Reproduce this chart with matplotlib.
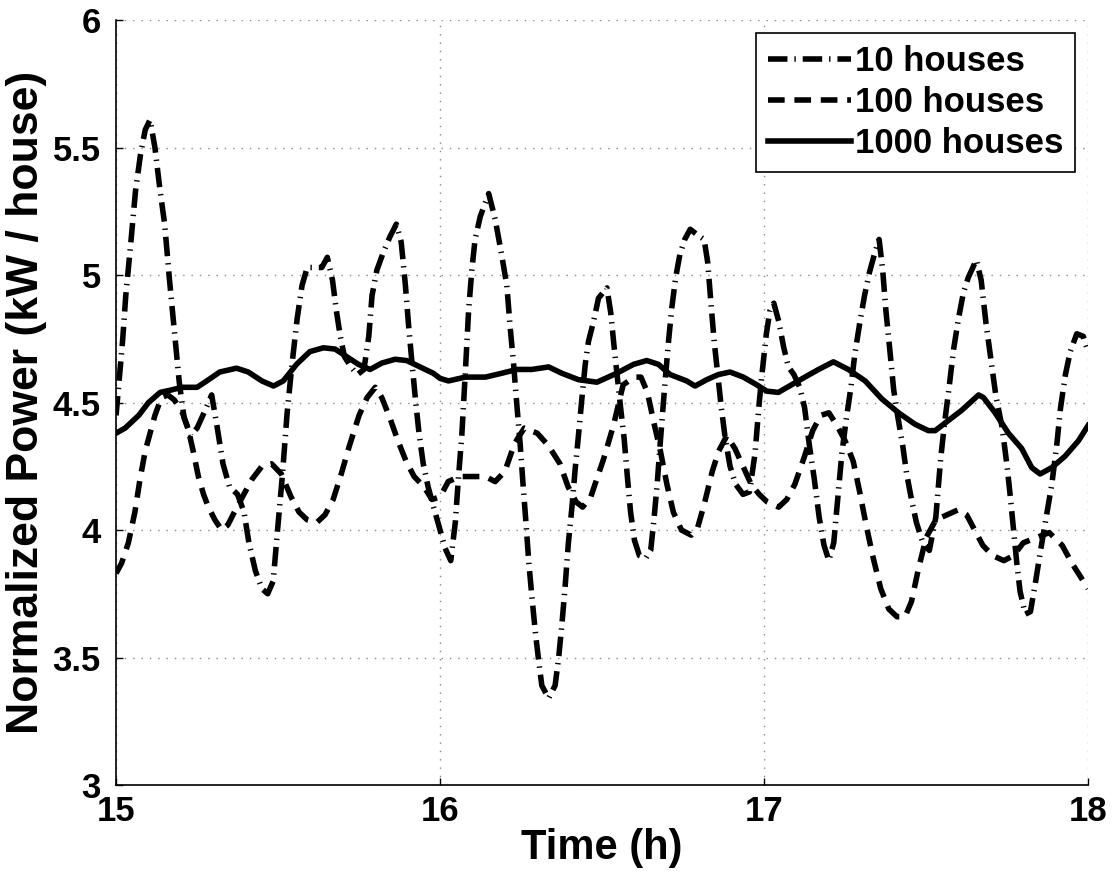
import matplotlib
matplotlib.use("Agg")
import matplotlib.pyplot as plt

# Normalized power per house
t10 = [15.0, 15.02, 15.03, 15.045, 15.06, 15.075, 15.09, 15.105, 15.12, 15.135, 15.15, 15.165,
       15.18, 15.195, 15.21, 15.23, 15.25, 15.275, 15.295, 15.31, 15.33, 15.35, 15.375, 15.395,
       15.41, 15.43, 15.45, 15.468, 15.485, 15.497, 15.513, 15.528, 15.543, 15.559, 15.574, 15.59,
       15.61, 15.635, 15.652, 15.668, 15.68, 15.692, 15.705, 15.725, 15.745, 15.765, 15.78, 15.79,
       15.805, 15.825, 15.845, 15.865, 15.88, 15.893, 15.903, 15.913, 15.925, 15.935, 15.948, 15.963,
       15.98, 16.0, 16.015, 16.033, 16.047, 16.057, 16.067, 16.078, 16.088, 16.098, 16.108, 16.124,
       16.15, 16.17, 16.19, 16.206, 16.216, 16.227, 16.237, 16.247, 16.256, 16.265, 16.274, 16.284,
       16.294, 16.304, 16.314, 16.335, 16.355, 16.366, 16.376, 16.386, 16.396, 16.407, 16.417, 16.427,
       16.438, 16.448, 16.458, 16.474, 16.489, 16.515, 16.527, 16.537, 16.548, 16.558, 16.568, 16.578,
       16.588, 16.6, 16.615, 16.635, 16.65, 16.66, 16.67, 16.68, 16.693, 16.705, 16.715, 16.727,
       16.74, 16.755, 16.772, 16.792, 16.815, 16.826, 16.836, 16.846, 16.857, 16.868, 16.88, 16.895,
       16.912, 16.935, 16.955, 16.972, 16.985, 16.995, 17.007, 17.018, 17.03, 17.045, 17.06, 17.075,
       17.092, 17.11, 17.125, 17.14, 17.155, 17.17, 17.185, 17.2, 17.215, 17.228, 17.24, 17.253,
       17.268, 17.28, 17.295, 17.31, 17.325, 17.34, 17.355, 17.366, 17.376, 17.387, 17.4, 17.412,
       17.428, 17.44, 17.455, 17.47, 17.49, 17.51, 17.53, 17.545, 17.557, 17.57, 17.585, 17.6,
       17.615, 17.63, 17.655, 17.67, 17.685, 17.7, 17.715, 17.735, 17.75, 17.76, 17.77, 17.78,
       17.79, 17.806, 17.822, 17.837, 17.852, 17.868, 17.888, 17.903, 17.915, 17.93, 17.945, 17.965,
       17.985, 18.0]
p10 = [4.45, 4.74, 4.92, 5.12, 5.33, 5.47, 5.57, 5.61, 5.5, 5.34, 5.2, 4.98,
       4.78, 4.58, 4.44, 4.37, 4.40, 4.47, 4.53, 4.42, 4.26, 4.17, 4.14, 4.07,
       3.95, 3.84, 3.77, 3.75, 3.8, 3.98, 4.21, 4.46, 4.65, 4.83, 4.96, 5.03,
       5.03, 5.03, 5.07, 4.98, 4.86, 4.76, 4.68, 4.64, 4.61, 4.63, 4.76, 4.92,
       5.02, 5.09, 5.15, 5.2, 5.13, 4.96, 4.8, 4.66, 4.5, 4.38, 4.26, 4.17,
       4.09, 4.0, 3.93, 3.88, 4.03, 4.21, 4.37, 4.62, 4.86, 5.02, 5.14, 5.23,
       5.32, 5.22, 5.08, 4.96, 4.80, 4.65, 4.49, 4.34, 4.18, 4.03, 3.87, 3.73,
       3.6, 3.49, 3.39, 3.34, 3.39, 3.5, 3.63, 3.78, 3.95, 4.09, 4.24, 4.37,
       4.52, 4.65, 4.74, 4.82, 4.91, 4.95, 4.85, 4.72, 4.59, 4.47, 4.36, 4.21,
       4.07, 3.96, 3.9, 3.89, 3.92, 4.04, 4.18, 4.35, 4.56, 4.74, 4.87, 4.99,
       5.08, 5.14, 5.18, 5.16, 5.14, 5.05, 4.89, 4.74, 4.61, 4.48, 4.36, 4.25,
       4.18, 4.14, 4.15, 4.3, 4.5, 4.63, 4.77, 4.86, 4.89, 4.82, 4.72, 4.64,
       4.61, 4.56, 4.48, 4.33, 4.2, 4.05, 3.94, 3.88, 3.95, 4.13, 4.3, 4.43,
       4.56, 4.69, 4.81, 4.92, 5.01, 5.08, 5.14, 5.02, 4.86, 4.72, 4.55, 4.45,
       4.33, 4.22, 4.12, 4.03, 3.95, 3.92, 4.05, 4.28, 4.42, 4.55, 4.71, 4.83,
       4.93, 4.99, 5.06, 4.98, 4.81, 4.67, 4.53, 4.4, 4.25, 4.13, 4.0, 3.87,
       3.76, 3.67, 3.68, 3.79, 3.91, 4.03, 4.18, 4.33, 4.48, 4.61, 4.7, 4.77,
       4.76, 4.70]

t100 = [15.0, 15.017, 15.038, 15.058, 15.074, 15.09, 15.105, 15.12, 15.14, 15.16, 15.18, 15.205,
        15.222, 15.238, 15.254, 15.27, 15.285, 15.305, 15.326, 15.345, 15.365, 15.39, 15.42, 15.45,
        15.48, 15.51, 15.54, 15.565, 15.59, 15.62, 15.645, 15.67, 15.695, 15.72, 15.75, 15.775,
        15.8, 15.82, 15.845, 15.87, 15.895, 15.92, 15.95, 15.975, 16.0, 16.025, 16.06, 16.1,
        16.14, 16.17, 16.2, 16.23, 16.26, 16.3, 16.335, 16.37, 16.395, 16.42, 16.44, 16.465,
        16.505, 16.535, 16.565, 16.6, 16.62, 16.64, 16.66, 16.68, 16.7, 16.72, 16.745, 16.775,
        16.795, 16.815, 16.84, 16.86, 16.885, 16.91, 16.935, 16.96, 16.985, 17.01, 17.045, 17.07,
        17.095, 17.125, 17.15, 17.175, 17.2, 17.225, 17.25, 17.275, 17.295, 17.315, 17.335, 17.36,
        17.385, 17.41, 17.435, 17.455, 17.475, 17.5, 17.53, 17.565, 17.6, 17.625, 17.65, 17.675,
        17.705, 17.74, 17.77, 17.8, 17.84, 17.88, 17.92, 17.95, 18.0]
p100 = [3.83, 3.87, 3.95, 4.07, 4.2, 4.31, 4.38, 4.45, 4.52, 4.53, 4.51, 4.46,
        4.40, 4.31, 4.21, 4.14, 4.09, 4.04, 4.0, 4.02, 4.07, 4.13, 4.2, 4.25,
        4.26, 4.22, 4.13, 4.07, 4.04, 4.03, 4.06, 4.12, 4.22, 4.33, 4.45, 4.52,
        4.56, 4.52, 4.44, 4.35, 4.27, 4.21, 4.17, 4.12, 4.13, 4.19, 4.21, 4.21,
        4.21, 4.19, 4.23, 4.34, 4.40, 4.38, 4.33, 4.26, 4.17, 4.11, 4.09, 4.13,
        4.28, 4.41, 4.57, 4.6, 4.6, 4.54, 4.42, 4.31, 4.18, 4.07, 4.0, 3.98,
        4.01, 4.1, 4.23, 4.31, 4.37, 4.32, 4.25, 4.18, 4.14, 4.11, 4.09, 4.12,
        4.18, 4.29, 4.39, 4.45, 4.46, 4.41, 4.35, 4.27, 4.15, 4.02, 3.9, 3.77,
        3.69, 3.66, 3.66, 3.72, 3.84, 3.97, 4.04, 4.06, 4.08, 4.06, 4.0, 3.94,
        3.9, 3.88, 3.9, 3.95, 3.97, 3.99, 3.94, 3.87, 3.77]

t1000 = [15.0, 15.028, 15.07, 15.1, 15.136, 15.172, 15.203, 15.25, 15.28, 15.32, 15.372, 15.408,
         15.45, 15.486, 15.516, 15.557, 15.598, 15.64, 15.676, 15.712, 15.748, 15.784, 15.82, 15.861,
         15.897, 15.938, 15.979, 16.0, 16.026, 16.078, 16.14, 16.19, 16.237, 16.283, 16.335, 16.376,
         16.427, 16.484, 16.545, 16.597, 16.638, 16.674, 16.71, 16.761, 16.787, 16.823, 16.859, 16.895,
         16.936, 16.977, 17.008, 17.044, 17.085, 17.126, 17.168, 17.214, 17.26, 17.312, 17.363, 17.415,
         17.466, 17.507, 17.528, 17.569, 17.61, 17.662, 17.677, 17.713, 17.754, 17.795, 17.826, 17.852,
         17.888, 17.929, 17.97, 18.0]
p1000 = [4.38, 4.40, 4.45, 4.5, 4.54, 4.55, 4.56, 4.56, 4.585, 4.62, 4.635, 4.62,
         4.585, 4.565, 4.585, 4.65, 4.70, 4.715, 4.71, 4.68, 4.65, 4.63, 4.655, 4.67,
         4.665, 4.64, 4.615, 4.595, 4.585, 4.6, 4.6, 4.615, 4.63, 4.63, 4.64, 4.615,
         4.59, 4.58, 4.615, 4.65, 4.665, 4.65, 4.61, 4.585, 4.565, 4.59, 4.61, 4.62,
         4.6, 4.57, 4.545, 4.54, 4.57, 4.6, 4.63, 4.66, 4.63, 4.585, 4.515, 4.46,
         4.415, 4.39, 4.39, 4.43, 4.47, 4.53, 4.52, 4.46, 4.38, 4.32, 4.245, 4.22,
         4.245, 4.29, 4.35, 4.41]

x_ticks = [15, 16, 17, 18]
y_ticks = [3, 3.5, 4, 4.5, 5, 5.5, 6]
y_tick_labels = ['3', '3.5', '4', '4.5', '5', '5.5', '6']

plt.rcParams['font.family'] = ['Liberation Sans', 'DejaVu Sans']
plt.rcParams['font.weight'] = 'bold'
plt.rcParams['lines.scale_dashes'] = False

fig = plt.figure(figsize=(11.16, 8.8), dpi=100)
ax = fig.add_axes([0.104, 0.108, 0.871, 0.869])

lw = 4
ax.plot(t10, p10, color='black', lw=lw, linestyle=(0, (14, 5, 1, 5)),
        dash_capstyle='butt', label='10 houses')
ax.plot(t100, p100, color='black', lw=lw, linestyle=(0, (12, 7)),
        dash_capstyle='butt', label='100 houses')
ax.plot(t1000, p1000, color='black', lw=lw, linestyle='-', label='1000 houses')

ax.set_xlim(15, 18)
ax.set_ylim(3, 6)
ax.set_xticks(x_ticks)
ax.set_xticklabels([str(v) for v in x_ticks])
ax.set_yticks(y_ticks)
ax.set_yticklabels(y_tick_labels)
ax.tick_params(direction='in', length=5, width=1, labelsize=25)
ax.tick_params(axis='x', pad=7)
ax.tick_params(axis='y', pad=11)

ax.grid(True, color='#888888', linestyle=(0, (1, 5)), lw=1)
ax.spines['top'].set_visible(False)
ax.spines['right'].set_visible(False)
ax.spines['left'].set_linewidth(1.2)
ax.spines['bottom'].set_linewidth(1.2)

ax.set_xlabel('Time (h)', fontsize=30, fontweight='bold', labelpad=0)
ax.set_ylabel('Normalized Power (kW / house)', fontsize=32, fontweight='bold', labelpad=4)

leg = ax.legend(loc='upper right', bbox_to_anchor=(0.987, 0.983), borderaxespad=0,
                fontsize=25, handlelength=2.4, handletextpad=0.1, labelspacing=0.22,
                borderpad=0.35, fancybox=False, framealpha=1, edgecolor='black')
leg.get_frame().set_linewidth(1.2)
for text in leg.get_texts():
    text.set_fontweight('bold')

fig.savefig('out.png', dpi=100)
